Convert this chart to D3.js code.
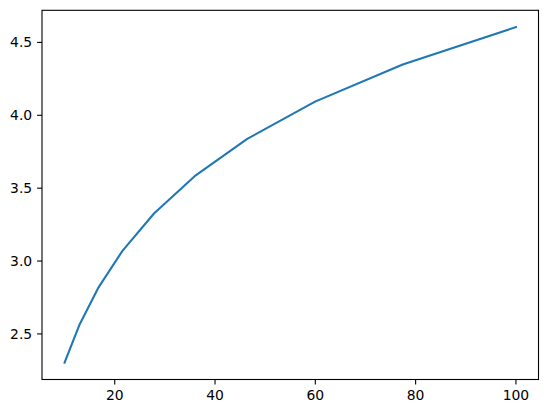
<!DOCTYPE html>
<html>
<head>
<meta charset="utf-8">
<script src="https://cdn.jsdelivr.net/npm/d3@7"></script>
<style>
  body { margin: 0; background: #fff; }
</style>
</head>
<body>
<div id="chart"></div>
<script>
const xValues = [10, 12.92, 16.68, 21.54, 27.83, 35.94, 46.42, 59.95, 77.43, 100];
const yValues = [2.303, 2.559, 2.814, 3.070, 3.326, 3.582, 3.838, 4.094, 4.349, 4.605];
const xTicks = [20, 40, 60, 80, 100];
const yTicks = [2.5, 3.0, 3.5, 4.0, 4.5];

const width = 547, height = 413;
const margin = { top: 10.3, right: 8.5, bottom: 33.5, left: 42 };

const svg = d3.select("#chart").append("svg")
    .attr("width", width)
    .attr("height", height);

const x = d3.scaleLinear()
    .domain([5.5, 104.5])
    .range([margin.left, width - margin.right]);

const y = d3.scaleLinear()
    .domain([2.1874, 4.7203])
    .range([height - margin.bottom, margin.top]);

const points = xValues.map((v, i) => [v, yValues[i]]);

svg.append("path")
    .datum(points)
    .attr("fill", "none")
    .attr("stroke", "#1f77b4")
    .attr("stroke-width", 2.08)
    .attr("stroke-linejoin", "round")
    .attr("stroke-linecap", "square")
    .attr("d", d3.line().x(d => x(d[0])).y(d => y(d[1])));

// frame
svg.append("rect")
    .attr("x", margin.left)
    .attr("y", margin.top)
    .attr("width", width - margin.left - margin.right)
    .attr("height", height - margin.top - margin.bottom)
    .attr("fill", "none")
    .attr("stroke", "#000")
    .attr("stroke-width", 1.1);

// axes drawn by hand so the font settings stick
const xAxis = svg.append("g")
    .attr("transform", `translate(0,${height - margin.bottom})`)
    .attr("font-family", "DejaVu Sans")
    .attr("font-size", 13.9);

xAxis.selectAll("line").data(xTicks).join("line")
    .attr("x1", d => x(d)).attr("x2", d => x(d))
    .attr("y1", 0).attr("y2", 4.9)
    .attr("stroke", "#000").attr("stroke-width", 1.1);

xAxis.selectAll("text").data(xTicks).join("text")
    .attr("x", d => x(d))
    .attr("y", 20)
    .attr("text-anchor", "middle")
    .attr("fill", "#000")
    .text(d3.format("d"));

const yAxis = svg.append("g")
    .attr("transform", `translate(${margin.left},0)`)
    .attr("font-family", "DejaVu Sans")
    .attr("font-size", 13.9);

yAxis.selectAll("line").data(yTicks).join("line")
    .attr("x1", -4.9).attr("x2", 0)
    .attr("y1", d => y(d)).attr("y2", d => y(d))
    .attr("stroke", "#000").attr("stroke-width", 1.1);

yAxis.selectAll("text").data(yTicks).join("text")
    .attr("x", -9.8)
    .attr("y", d => y(d))
    .attr("dy", "0.36em")
    .attr("text-anchor", "end")
    .attr("fill", "#000")
    .text(d3.format(".1f"));
</script>
</body>
</html>
